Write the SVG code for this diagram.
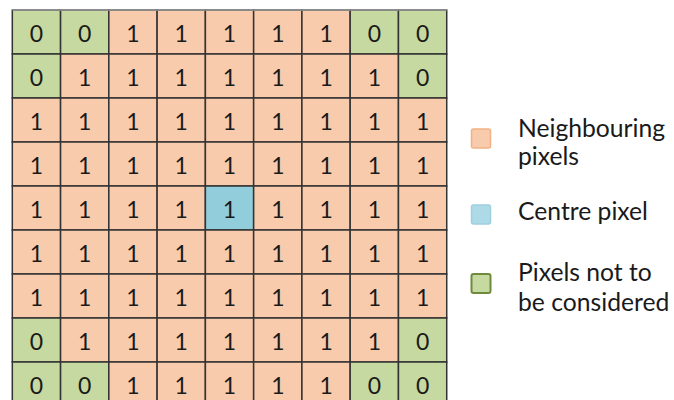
<svg xmlns="http://www.w3.org/2000/svg" width="674" height="400" viewBox="0 0 674 400">
<style>
.o{fill:#F8CBAD;stroke:#333;stroke-width:1.5}
.g{fill:#C5D9A0;stroke:#333;stroke-width:1.5}
.b{fill:#92CDDC;stroke:#333;stroke-width:1.5}
text{font-family:Lato,"Open Sans",sans-serif;font-size:23px;fill:#1a1a1a}
.n{text-anchor:middle}
.l{font-size:24.7px}
</style>
<rect width="674" height="400" fill="#fff"/>
<g id="grid">
<g id="r0">
<g id="c0-0"><rect class="g" x="12.3" y="10" width="48.27" height="44"/><text class="n" x="36.4" y="41.5">0</text></g>
<g id="c0-1"><rect class="g" x="60.57" y="10" width="48.27" height="44"/><text class="n" x="84.7" y="41.5">0</text></g>
<g id="c0-2"><rect class="o" x="108.84" y="10" width="48.27" height="44"/><text class="n" x="133" y="41.5">1</text></g>
<g id="c0-3"><rect class="o" x="157.11" y="10" width="48.27" height="44"/><text class="n" x="181.2" y="41.5">1</text></g>
<g id="c0-4"><rect class="o" x="205.38" y="10" width="48.27" height="44"/><text class="n" x="229.5" y="41.5">1</text></g>
<g id="c0-5"><rect class="o" x="253.65" y="10" width="48.27" height="44"/><text class="n" x="277.8" y="41.5">1</text></g>
<g id="c0-6"><rect class="o" x="301.92" y="10" width="48.27" height="44"/><text class="n" x="326.1" y="41.5">1</text></g>
<g id="c0-7"><rect class="g" x="350.19" y="10" width="48.27" height="44"/><text class="n" x="374.3" y="41.5">0</text></g>
<g id="c0-8"><rect class="g" x="398.46" y="10" width="48.27" height="44"/><text class="n" x="422.6" y="41.5">0</text></g>
</g>
<g id="r1">
<g id="c1-0"><rect class="g" x="12.3" y="54" width="48.27" height="44"/><text class="n" x="36.4" y="85.5">0</text></g>
<g id="c1-1"><rect class="o" x="60.57" y="54" width="48.27" height="44"/><text class="n" x="84.7" y="85.5">1</text></g>
<g id="c1-2"><rect class="o" x="108.84" y="54" width="48.27" height="44"/><text class="n" x="133" y="85.5">1</text></g>
<g id="c1-3"><rect class="o" x="157.11" y="54" width="48.27" height="44"/><text class="n" x="181.2" y="85.5">1</text></g>
<g id="c1-4"><rect class="o" x="205.38" y="54" width="48.27" height="44"/><text class="n" x="229.5" y="85.5">1</text></g>
<g id="c1-5"><rect class="o" x="253.65" y="54" width="48.27" height="44"/><text class="n" x="277.8" y="85.5">1</text></g>
<g id="c1-6"><rect class="o" x="301.92" y="54" width="48.27" height="44"/><text class="n" x="326.1" y="85.5">1</text></g>
<g id="c1-7"><rect class="o" x="350.19" y="54" width="48.27" height="44"/><text class="n" x="374.3" y="85.5">1</text></g>
<g id="c1-8"><rect class="g" x="398.46" y="54" width="48.27" height="44"/><text class="n" x="422.6" y="85.5">0</text></g>
</g>
<g id="r2">
<g id="c2-0"><rect class="o" x="12.3" y="98" width="48.27" height="44"/><text class="n" x="36.4" y="129.5">1</text></g>
<g id="c2-1"><rect class="o" x="60.57" y="98" width="48.27" height="44"/><text class="n" x="84.7" y="129.5">1</text></g>
<g id="c2-2"><rect class="o" x="108.84" y="98" width="48.27" height="44"/><text class="n" x="133" y="129.5">1</text></g>
<g id="c2-3"><rect class="o" x="157.11" y="98" width="48.27" height="44"/><text class="n" x="181.2" y="129.5">1</text></g>
<g id="c2-4"><rect class="o" x="205.38" y="98" width="48.27" height="44"/><text class="n" x="229.5" y="129.5">1</text></g>
<g id="c2-5"><rect class="o" x="253.65" y="98" width="48.27" height="44"/><text class="n" x="277.8" y="129.5">1</text></g>
<g id="c2-6"><rect class="o" x="301.92" y="98" width="48.27" height="44"/><text class="n" x="326.1" y="129.5">1</text></g>
<g id="c2-7"><rect class="o" x="350.19" y="98" width="48.27" height="44"/><text class="n" x="374.3" y="129.5">1</text></g>
<g id="c2-8"><rect class="o" x="398.46" y="98" width="48.27" height="44"/><text class="n" x="422.6" y="129.5">1</text></g>
</g>
<g id="r3">
<g id="c3-0"><rect class="o" x="12.3" y="142" width="48.27" height="44"/><text class="n" x="36.4" y="173.5">1</text></g>
<g id="c3-1"><rect class="o" x="60.57" y="142" width="48.27" height="44"/><text class="n" x="84.7" y="173.5">1</text></g>
<g id="c3-2"><rect class="o" x="108.84" y="142" width="48.27" height="44"/><text class="n" x="133" y="173.5">1</text></g>
<g id="c3-3"><rect class="o" x="157.11" y="142" width="48.27" height="44"/><text class="n" x="181.2" y="173.5">1</text></g>
<g id="c3-4"><rect class="o" x="205.38" y="142" width="48.27" height="44"/><text class="n" x="229.5" y="173.5">1</text></g>
<g id="c3-5"><rect class="o" x="253.65" y="142" width="48.27" height="44"/><text class="n" x="277.8" y="173.5">1</text></g>
<g id="c3-6"><rect class="o" x="301.92" y="142" width="48.27" height="44"/><text class="n" x="326.1" y="173.5">1</text></g>
<g id="c3-7"><rect class="o" x="350.19" y="142" width="48.27" height="44"/><text class="n" x="374.3" y="173.5">1</text></g>
<g id="c3-8"><rect class="o" x="398.46" y="142" width="48.27" height="44"/><text class="n" x="422.6" y="173.5">1</text></g>
</g>
<g id="r4">
<g id="c4-0"><rect class="o" x="12.3" y="186" width="48.27" height="44"/><text class="n" x="36.4" y="217.5">1</text></g>
<g id="c4-1"><rect class="o" x="60.57" y="186" width="48.27" height="44"/><text class="n" x="84.7" y="217.5">1</text></g>
<g id="c4-2"><rect class="o" x="108.84" y="186" width="48.27" height="44"/><text class="n" x="133" y="217.5">1</text></g>
<g id="c4-3"><rect class="o" x="157.11" y="186" width="48.27" height="44"/><text class="n" x="181.2" y="217.5">1</text></g>
<g id="c4-4"><rect class="b" x="205.38" y="186" width="48.27" height="44"/><text class="n" x="229.5" y="217.5">1</text></g>
<g id="c4-5"><rect class="o" x="253.65" y="186" width="48.27" height="44"/><text class="n" x="277.8" y="217.5">1</text></g>
<g id="c4-6"><rect class="o" x="301.92" y="186" width="48.27" height="44"/><text class="n" x="326.1" y="217.5">1</text></g>
<g id="c4-7"><rect class="o" x="350.19" y="186" width="48.27" height="44"/><text class="n" x="374.3" y="217.5">1</text></g>
<g id="c4-8"><rect class="o" x="398.46" y="186" width="48.27" height="44"/><text class="n" x="422.6" y="217.5">1</text></g>
</g>
<g id="r5">
<g id="c5-0"><rect class="o" x="12.3" y="230" width="48.27" height="44"/><text class="n" x="36.4" y="261.5">1</text></g>
<g id="c5-1"><rect class="o" x="60.57" y="230" width="48.27" height="44"/><text class="n" x="84.7" y="261.5">1</text></g>
<g id="c5-2"><rect class="o" x="108.84" y="230" width="48.27" height="44"/><text class="n" x="133" y="261.5">1</text></g>
<g id="c5-3"><rect class="o" x="157.11" y="230" width="48.27" height="44"/><text class="n" x="181.2" y="261.5">1</text></g>
<g id="c5-4"><rect class="o" x="205.38" y="230" width="48.27" height="44"/><text class="n" x="229.5" y="261.5">1</text></g>
<g id="c5-5"><rect class="o" x="253.65" y="230" width="48.27" height="44"/><text class="n" x="277.8" y="261.5">1</text></g>
<g id="c5-6"><rect class="o" x="301.92" y="230" width="48.27" height="44"/><text class="n" x="326.1" y="261.5">1</text></g>
<g id="c5-7"><rect class="o" x="350.19" y="230" width="48.27" height="44"/><text class="n" x="374.3" y="261.5">1</text></g>
<g id="c5-8"><rect class="o" x="398.46" y="230" width="48.27" height="44"/><text class="n" x="422.6" y="261.5">1</text></g>
</g>
<g id="r6">
<g id="c6-0"><rect class="o" x="12.3" y="274" width="48.27" height="44"/><text class="n" x="36.4" y="305.5">1</text></g>
<g id="c6-1"><rect class="o" x="60.57" y="274" width="48.27" height="44"/><text class="n" x="84.7" y="305.5">1</text></g>
<g id="c6-2"><rect class="o" x="108.84" y="274" width="48.27" height="44"/><text class="n" x="133" y="305.5">1</text></g>
<g id="c6-3"><rect class="o" x="157.11" y="274" width="48.27" height="44"/><text class="n" x="181.2" y="305.5">1</text></g>
<g id="c6-4"><rect class="o" x="205.38" y="274" width="48.27" height="44"/><text class="n" x="229.5" y="305.5">1</text></g>
<g id="c6-5"><rect class="o" x="253.65" y="274" width="48.27" height="44"/><text class="n" x="277.8" y="305.5">1</text></g>
<g id="c6-6"><rect class="o" x="301.92" y="274" width="48.27" height="44"/><text class="n" x="326.1" y="305.5">1</text></g>
<g id="c6-7"><rect class="o" x="350.19" y="274" width="48.27" height="44"/><text class="n" x="374.3" y="305.5">1</text></g>
<g id="c6-8"><rect class="o" x="398.46" y="274" width="48.27" height="44"/><text class="n" x="422.6" y="305.5">1</text></g>
</g>
<g id="r7">
<g id="c7-0"><rect class="g" x="12.3" y="318" width="48.27" height="44"/><text class="n" x="36.4" y="349.5">0</text></g>
<g id="c7-1"><rect class="o" x="60.57" y="318" width="48.27" height="44"/><text class="n" x="84.7" y="349.5">1</text></g>
<g id="c7-2"><rect class="o" x="108.84" y="318" width="48.27" height="44"/><text class="n" x="133" y="349.5">1</text></g>
<g id="c7-3"><rect class="o" x="157.11" y="318" width="48.27" height="44"/><text class="n" x="181.2" y="349.5">1</text></g>
<g id="c7-4"><rect class="o" x="205.38" y="318" width="48.27" height="44"/><text class="n" x="229.5" y="349.5">1</text></g>
<g id="c7-5"><rect class="o" x="253.65" y="318" width="48.27" height="44"/><text class="n" x="277.8" y="349.5">1</text></g>
<g id="c7-6"><rect class="o" x="301.92" y="318" width="48.27" height="44"/><text class="n" x="326.1" y="349.5">1</text></g>
<g id="c7-7"><rect class="o" x="350.19" y="318" width="48.27" height="44"/><text class="n" x="374.3" y="349.5">1</text></g>
<g id="c7-8"><rect class="g" x="398.46" y="318" width="48.27" height="44"/><text class="n" x="422.6" y="349.5">0</text></g>
</g>
<g id="r8">
<g id="c8-0"><rect class="g" x="12.3" y="362" width="48.27" height="44"/><text class="n" x="36.4" y="393.5">0</text></g>
<g id="c8-1"><rect class="g" x="60.57" y="362" width="48.27" height="44"/><text class="n" x="84.7" y="393.5">0</text></g>
<g id="c8-2"><rect class="o" x="108.84" y="362" width="48.27" height="44"/><text class="n" x="133" y="393.5">1</text></g>
<g id="c8-3"><rect class="o" x="157.11" y="362" width="48.27" height="44"/><text class="n" x="181.2" y="393.5">1</text></g>
<g id="c8-4"><rect class="o" x="205.38" y="362" width="48.27" height="44"/><text class="n" x="229.5" y="393.5">1</text></g>
<g id="c8-5"><rect class="o" x="253.65" y="362" width="48.27" height="44"/><text class="n" x="277.8" y="393.5">1</text></g>
<g id="c8-6"><rect class="o" x="301.92" y="362" width="48.27" height="44"/><text class="n" x="326.1" y="393.5">1</text></g>
<g id="c8-7"><rect class="g" x="350.19" y="362" width="48.27" height="44"/><text class="n" x="374.3" y="393.5">0</text></g>
<g id="c8-8"><rect class="g" x="398.46" y="362" width="48.27" height="44"/><text class="n" x="422.6" y="393.5">0</text></g>
</g>
<line x1="12.3" y1="10" x2="446.73" y2="10" stroke="#9a9a9a" stroke-width="1.5"/>
</g>
<g id="connectors"/>
<g id="legend">
<g id="leg-neighbour"><rect x="471.5" y="129" width="19" height="19" rx="2" fill="#F8CBAD" stroke="#F4B183" stroke-width="1.5"/><text class="l" x="518" y="136.5">Neighbouring</text><text class="l" x="518" y="165">pixels</text></g>
<g id="leg-centre"><rect x="471.5" y="205" width="19" height="19" rx="2" fill="#ADDAE6" stroke="#9FD0DF" stroke-width="1.5"/><text class="l" x="518" y="220">Centre pixel</text></g>
<g id="leg-ignore"><rect x="471.5" y="274" width="19" height="19" rx="2" fill="#C5D9A0" stroke="#6E8B3D" stroke-width="2"/><text class="l" x="518" y="280.5">Pixels not to</text><text class="l" x="518" y="311">be considered</text></g>
</g>
</svg>
